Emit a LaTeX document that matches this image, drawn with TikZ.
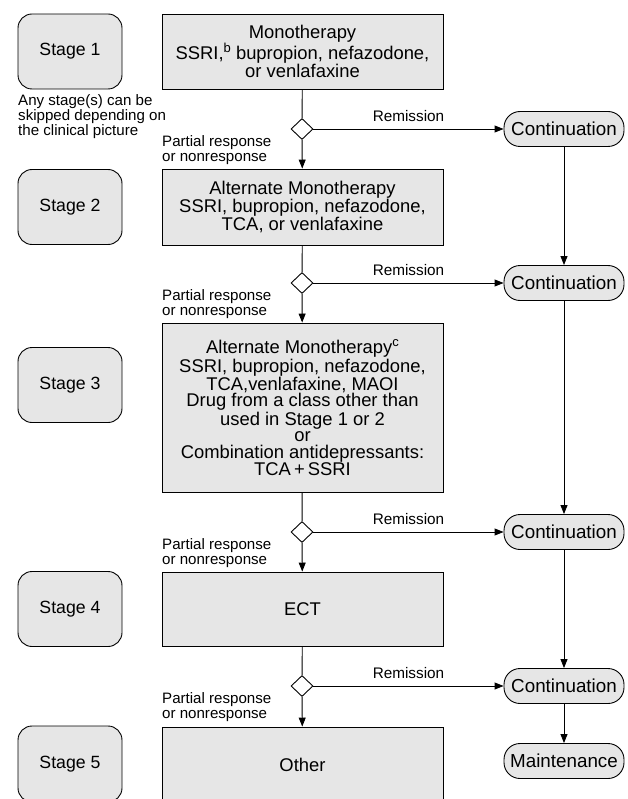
\documentclass[tikz,border=0pt]{standalone}
\usepackage{fontspec}
\setmainfont{Liberation Sans}
\usetikzlibrary{arrows.meta,shapes.geometric}
\definecolor{boxgray}{HTML}{E6E6E6}
\tikzset{
  stagebox/.style={draw, fill=boxgray, rounded corners=14pt, minimum width=104pt, minimum height=75pt, font=\fontsize{17.7}{19}\selectfont, line width=0.9pt},
  mainbox/.style={draw, fill=boxgray, minimum width=281pt, align=center, font=\fontsize{18.4}{16.7}\selectfont, line width=0.9pt},
  dec/.style={draw, fill=white, diamond, minimum width=22pt, minimum height=21pt, inner sep=0pt, line width=0.9pt},
  contbox/.style={draw, fill=boxgray, rounded corners=16pt, minimum width=120pt, minimum height=35pt, font=\fontsize{18.8}{19}\selectfont, line width=0.9pt},
  small/.style={font=\fontsize{15.1}{15}\selectfont, align=left, inner sep=0pt},
  remlab/.style={font=\fontsize{15.3}{15}\selectfont, inner sep=0pt, above=7pt},
  conn/.style={line width=0.9pt},
  arr/.style={line width=0.9pt, -{Triangle[length=9pt,width=7pt]}}
}
\newcommand{\supx}[1]{\raisebox{0.4em}{\fontsize{13}{13}\selectfont #1}}
\begin{document}
\begin{tikzpicture}[x=1pt,y=-1pt]
\useasboundingbox (0,0) rectangle (627,799);
\begin{scope}
\clip (0,0) rectangle (627,799);
% stage boxes
\node[stagebox] (s1) at (70,51.5) {Stage 1};
\node[stagebox] (s2) at (70,207) {Stage 2};
\node[stagebox] (s3) at (70,385) {Stage 3};
\node[stagebox] (s4) at (70,609) {Stage 4};
\node[stagebox, minimum height=76pt] (s5) at (70,764) {Stage 5};
\node[small, anchor=north west] (note) at (18,94) {Any stage(s) can be\\skipped depending on\\the clinical picture};
% main boxes
\node[mainbox, minimum height=75pt] (m1) at (302.5,51.5) {Monotherapy\\SSRI,\supx{b} bupropion, nefazodone,\\or venlafaxine};
\node[mainbox, minimum height=76pt] (m2) at (302.5,207) {Alternate Monotherapy\\SSRI, bupropion, nefazodone,\\TCA, or venlafaxine};
\node[mainbox, minimum height=169pt] (m3) at (302.5,407.5) {Alternate Monotherapy\supx{c}\\SSRI, bupropion, nefazodone,\\TCA,venlafaxine, MAOI\\Drug from a class other than\\used in Stage 1 or 2\\or\\Combination antidepressants:\\TCA\,+\,SSRI};
\node[mainbox, minimum height=74pt] (m4) at (302.5,609) {ECT};
\node[mainbox, minimum height=76pt] (m5) at (302.5,765) {Other};
% decisions
\node[dec] (d1) at (302,129) {};
\node[dec] (d2) at (302,283) {};
\node[dec] (d3) at (302,532) {};
\node[dec] (d4) at (302,686) {};
% continuation
\node[contbox] (c1) at (564,129) {Continuation};
\node[contbox] (c2) at (564,283) {Continuation};
\node[contbox] (c3) at (564,532) {Continuation};
\node[contbox] (c4) at (564,686) {Continuation};
\node[contbox] (mt) at (564,761) {Maintenance};
% connectors
\draw[conn] (m1) -- (d1);
\draw[arr] (d1) -- (m2);
\draw[conn] (m2) -- (d2);
\draw[arr] (d2) -- (m3);
\draw[conn] (m3) -- (d3);
\draw[arr] (d3) -- (m4);
\draw[conn] (m4) -- (d4);
\draw[arr] (d4) -- (m5);
\draw[arr] (d1) -- node[remlab] {Remission} (c1);
\draw[arr] (d2) -- node[remlab] {Remission} (c2);
\draw[arr] (d3) -- node[remlab] {Remission} (c3);
\draw[arr] (d4) -- node[remlab] {Remission} (c4);
\draw[arr] (c1) -- (c2);
\draw[arr] (c2) -- (c3);
\draw[arr] (c3) -- (c4);
\draw[arr] (c4) -- (mt);
% partial response labels
\node[small, anchor=south west] (p1) at (162,165) {Partial response\\or nonresponse};
\node[small, anchor=south west] (p2) at (162,319) {Partial response\\or nonresponse};
\node[small, anchor=south west] (p3) at (162,568) {Partial response\\or nonresponse};
\node[small, anchor=south west] (p4) at (162,722) {Partial response\\or nonresponse};
\end{scope}
\end{tikzpicture}
\end{document}
